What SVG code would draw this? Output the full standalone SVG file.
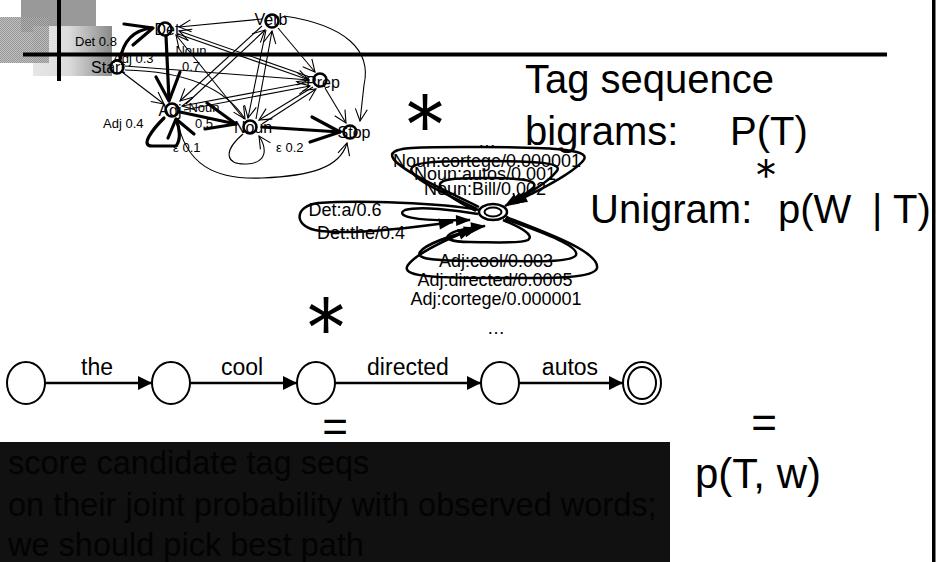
<svg xmlns="http://www.w3.org/2000/svg" width="937" height="562" viewBox="0 0 937 562">
  <style>
    .t { font-family: 'Liberation Sans', Arial, sans-serif; fill: #000; }
    .nl { font-size: 16px; text-anchor: middle; }
    .el { font-size: 13px; }
    .fl { font-size: 18px; text-anchor: middle; }
    .big { font-size: 40px; }
    .star { font-family: Inter, 'Liberation Sans', sans-serif; font-weight: 300; font-size: 88px; text-anchor: middle; fill: #000; }
    .node circle { fill: none; stroke: #000; stroke-width: 2.5; }
    .thin { fill: none; stroke: #000; stroke-width: 1.1; marker-end: url(#openArrow); }
    .thick { fill: none; stroke: #000; stroke-width: 3.2; stroke-linecap: round; stroke-linejoin: round; }
    .loop { fill: none; stroke: #000; stroke-width: 2.5; marker-end: url(#fstArrow); }
    .step { stroke: #000; stroke-width: 2.5; marker-end: url(#chainHead); }
    .state { fill: #fff; stroke: #000; stroke-width: 2; }
  </style>
  <defs>
    <linearGradient id="logoGrad" x1="0" y1="0" x2="1" y2="0">
      <stop offset="0" stop-color="#e6e6e6"/>
      <stop offset="0.45" stop-color="#dcdcdc"/>
      <stop offset="1" stop-color="#8a8a8a"/>
    </linearGradient>
    <pattern id="dither" width="2" height="2" patternUnits="userSpaceOnUse">
      <rect width="2" height="2" fill="#b4b4b4"/>
      <rect width="1" height="1" fill="#868686"/>
      <rect x="1" y="1" width="1" height="1" fill="#868686"/>
    </pattern>
    <marker id="openArrow" markerUnits="userSpaceOnUse" markerWidth="13" markerHeight="13" refX="12" refY="6" orient="auto" overflow="visible">
      <path d="M0,0 L12,6 L0,12" fill="none" stroke="#000" stroke-width="1.1"/>
    </marker>
    <marker id="fstArrow" markerUnits="userSpaceOnUse" markerWidth="15" markerHeight="11" refX="14" refY="5.5" orient="auto" overflow="visible">
      <path d="M0,0 L15,5.5 L0,11 z" fill="#000"/>
    </marker>
    <marker id="chainHead" markerUnits="userSpaceOnUse" markerWidth="14" markerHeight="14" refX="14" refY="7" orient="auto" overflow="visible">
      <path d="M0,0 L14,7 L0,14 z" fill="#000"/>
    </marker>
  </defs>

  <rect width="937" height="562" fill="#fff"/>

  <!-- slide frame: logo blocks and rules -->
  <g id="logo">
    <rect x="21" y="0" width="75" height="32" fill="#999"/>
    <rect x="33" y="26" width="79" height="50" fill="url(#logoGrad)"/>
    <rect x="0" y="17" width="49" height="46" fill="url(#dither)" opacity="0.85"/>
    <rect x="57" y="0" width="4" height="81" fill="#000"/>
  </g>
  <rect id="rule-top" x="23" y="52.5" width="864" height="4" fill="#000"/>
  <rect id="rule-right" x="932" y="0" width="3.5" height="562" fill="#000"/>

  <!-- tag bigram model: connectors -->
  <g id="hmm-edges">
    <path class="thin" d="M262 19 L179 27"/>
    <path class="thin" d="M310 77 L179 31"/>
    <path class="thin" d="M244 119 L176 35"/>
    <path class="thin" d="M178 34 L309 80"/>
    <path class="thin" d="M262 26 L180 101"/>
    <path class="thin" d="M186 104 L265 30"/>
    <path class="thin" d="M266 30 L248 118"/>
    <path class="thin" d="M256 119 L272 31"/>
    <path class="thin" d="M278 28 L315 72"/>
    <path class="thin" d="M284 16 C345 25 372 50 364 85 L360 121"/>
    <path class="thin" d="M325 88 L346 123"/>
    <path class="thin" d="M310 82 L182 106"/>
    <path class="thin" d="M184 110 L310 86"/>
    <path class="thin" d="M313 87 L259 120"/>
    <path class="thin" d="M262 124 L316 89"/>
    <path class="thin" d="M122 72 L164 104"/>
    <path class="thin" d="M125 66 L309 80"/>
    <path class="thin" d="M125 70 Q215 72 245 119"/>
    <path class="thin" d="M177 118 C185 165 215 180 262 178 C310 176 340 168 347 143"/>
    <path class="thin" d="M243 134 C222 152 226 165 247 164 C266 163 268 150 259 136"/>

    <!-- heavy transitions with open heads -->
    <path class="thick" d="M120 60 C123 42 133 30 152 28"/>
    <polyline class="thick" points="124,24 153,28 133,45"/>
    <path class="thick" d="M166 36 L169 100"/>
    <polyline class="thick" points="156,77 169,101 180,72"/>
    <path class="thick" d="M180 112 L236 124"/>
    <polyline class="thick" points="207,103 236,124 205,129"/>
    <path class="thick" d="M262 127 L340 132"/>
    <polyline class="thick" points="312,117 340,132 310,142"/>
    <path class="thick" d="M164 118 C152 130 140 146 152 146 L176 146 C181 140 180 128 176 120"/>
    <polyline class="thick" points="194,134 176,119 168,138"/>
  </g>

  <g id="hmm-edge-labels" class="t el">
    <text x="75" y="46">Det 0.8</text>
    <text x="113" y="63">Adj 0.3</text>
    <text x="191" y="55" text-anchor="middle">Noun</text>
    <text x="191" y="71" text-anchor="middle">0.7</text>
    <text x="103" y="128">Adj 0.4</text>
    <text x="173" y="152">ε 0.1</text>
    <text x="204" y="112" text-anchor="middle">Noun</text>
    <text x="204" y="128" text-anchor="middle">0.5</text>
    <text x="276" y="152">ε 0.2</text>
  </g>

  <g id="node-start" class="node"><circle cx="117" cy="67" r="6.5"/><text class="t nl" x="108" y="73">Start</text></g>
  <g id="node-det" class="node"><circle cx="165" cy="29" r="6.5"/><text class="t nl" x="167" y="35">Det</text></g>
  <g id="node-verb" class="node"><circle cx="272" cy="21" r="6.5"/><text class="t nl" x="271" y="25">Verb</text></g>
  <g id="node-prep" class="node"><circle cx="320" cy="80" r="6.5"/><text class="t nl" x="323" y="88">Prep</text></g>
  <g id="node-adj" class="node"><circle cx="172" cy="110" r="6.5"/><text class="t nl" x="170" y="116">Adj</text></g>
  <g id="node-noun" class="node"><circle cx="250" cy="127" r="6.5"/><text class="t nl" x="253" y="133">Noun</text></g>
  <g id="node-stop" class="node"><circle cx="350" cy="132" r="6.5"/><text class="t nl" x="354" y="138">Stop</text></g>

  <!-- one-state word emission machine -->
  <g id="fst-loops">
    <path class="loop" d="M479 207 C440 188 400 170 393 158 C386 146 420 147 480 147 C560 147 595 150 582 162 C570 175 540 190 513 203"/>
    <path class="loop" d="M477 209 C450 196 418 182 412 172 C406 161 440 161 485 161 C540 161 565 163 556 172 C548 182 530 193 509 204"/>
    <path class="loop" d="M476 211 C460 203 442 193 440 186 C438 178 460 178 488 178 C520 178 540 180 533 188 C527 194 515 200 505 206"/>
    <path class="loop" d="M480 210 C440 203 360 200 318 203 C295 206 293 225 315 230 C345 236 410 228 453 222"/>
    <path class="loop" d="M478 214 C455 210 420 206 405 210 C395 215 410 222 470 220"/>
    <path class="loop" d="M506 217 C545 232 600 252 597 268 C594 280 540 278 490 278 C430 278 400 276 408 265 C416 254 445 240 472 229"/>
    <path class="loop" d="M505 219 C535 230 580 245 576 255 C572 263 530 261 490 261 C440 261 415 260 420 252 C425 244 450 236 478 228"/>
    <path class="loop" d="M503 220 C520 227 535 235 528 240 C520 244 490 242 470 242 C450 242 443 238 450 234 C456 230 468 228 485 226"/>
  </g>
  <g id="fst-state">
    <ellipse cx="493" cy="212" rx="14" ry="8" fill="#fff" stroke="#000" stroke-width="2.5"/>
    <ellipse cx="493" cy="212" rx="8.5" ry="4.5" fill="none" stroke="#000" stroke-width="2"/>
  </g>
  <g id="fst-labels" class="t fl">
    <text x="487" y="147">…</text>
    <text x="487" y="167">Noun:cortege/0.000001</text>
    <text x="485" y="180">Noun:autos/0.001</text>
    <text x="485" y="195">Noun:Bill/0.002</text>
    <text x="345" y="216">Det:a/0.6</text>
    <text x="361" y="239">Det:the/0.4</text>
    <text x="496" y="267">Adj:cool/0.003</text>
    <text x="495" y="286">Adj:directed/0.0005</text>
    <text x="496" y="305">Adj:cortege/0.000001</text>
    <text x="496" y="334">…</text>
  </g>

  <!-- composition operators -->
  <text class="star" x="425" y="158">*</text>
  <text class="star" x="326" y="361">*</text>

  <!-- observed sentence as a straight-line acceptor -->
  <g id="sentence-steps">
    <line class="step" x1="45" y1="383" x2="152" y2="383"/>
    <line class="step" x1="190" y1="383" x2="297" y2="383"/>
    <line class="step" x1="335" y1="383" x2="481" y2="383"/>
    <line class="step" x1="519" y1="383" x2="623" y2="383"/>
  </g>
  <g id="q0"><ellipse class="state" cx="26" cy="383" rx="19" ry="21"/></g>
  <g id="q1"><ellipse class="state" cx="171" cy="383" rx="19" ry="21"/></g>
  <g id="q2"><ellipse class="state" cx="316" cy="383" rx="19" ry="21"/></g>
  <g id="q3"><ellipse class="state" cx="500" cy="383" rx="19" ry="21"/></g>
  <g id="q4"><ellipse class="state" cx="642" cy="383" rx="19" ry="21"/><ellipse cx="642" cy="383" rx="14" ry="16" fill="none" stroke="#000" stroke-width="2"/></g>
  <g id="sentence-words" class="t" font-size="23" text-anchor="middle">
    <text x="97" y="375">the</text>
    <text x="242" y="375">cool</text>
    <text x="408" y="375">directed</text>
    <text x="570" y="375">autos</text>
  </g>

  <!-- right-hand annotations -->
  <g class="t big">
    <text x="525" y="93">Tag sequence</text>
    <text x="525" y="145">bigrams:</text>
    <text x="730" y="145">P(T)</text>
    <text x="766" y="193" text-anchor="middle" style="font-family: Inter, 'Liberation Sans', sans-serif; font-weight: 300" font-size="46">*</text>
    <text x="590" y="223">Unigram:</text>
    <text x="778" y="223">p(W</text>
    <text x="872" y="223">|</text>
    <text x="893" y="223">T)</text>
    <text x="335" y="442" font-size="44" text-anchor="middle">=</text>
    <text x="764" y="438" font-size="44" text-anchor="middle">=</text>
    <text x="695" y="488" font-size="42">p(T, w)</text>
  </g>

  <!-- dark caption panel -->
  <g id="caption">
    <rect x="0" y="442" width="670" height="120" fill="#111"/>
    <g class="t" font-size="32.5" style="fill:#030303">
      <text x="8" y="474">score candidate tag seqs</text>
      <text x="8" y="516">on their joint probability with observed words;</text>
      <text x="8" y="556">we should pick best path</text>
    </g>
  </g>
</svg>
